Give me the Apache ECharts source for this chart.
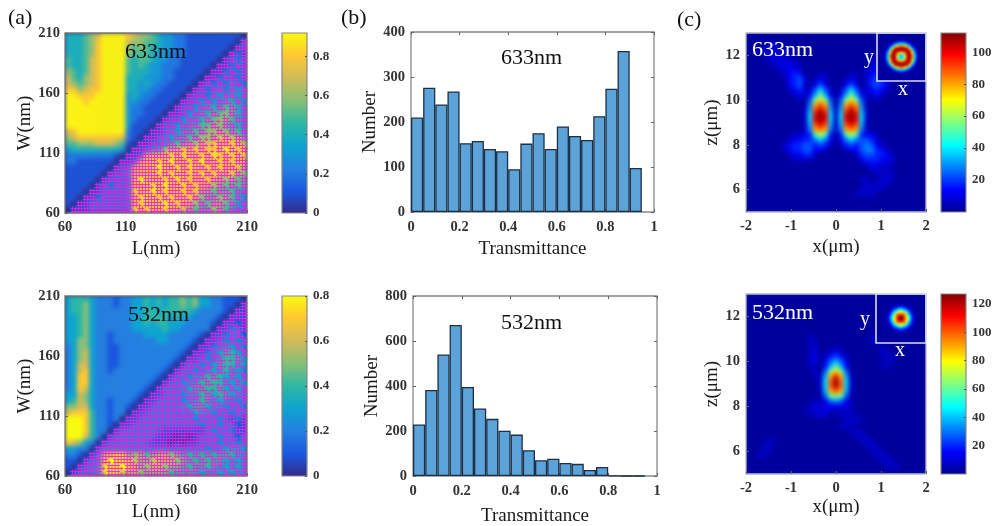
<!DOCTYPE html>
<html><head><meta charset="utf-8">
<style>
html,body{margin:0;padding:0;background:#fff;overflow:hidden}
#heat,#inset,#main{position:absolute;left:0;top:0;width:992px;height:526px}
#heat{background:#1c2c9c;filter:blur(2px)}
#inset{background:#00008f;filter:blur(.8px)}
</style>
<script src="https://cdn.jsdelivr.net/npm/echarts@6/dist/echarts.min.js"></script>
</head><body><div id="heat"></div><div id="inset"></div><div id="main"></div>
<script>
// ---------- histogram data ----------
const binCenters=[.025,.075,.125,.175,.225,.275,.325,.375,.425,.475,.525,.575,.625,.675,.725,.775,.825,.875,.925];
const counts633=[210,276,239,268,153,158,140,135,95,152,175,140,190,169,160,213,274,358,98];
const counts532=[229,382,540,671,396,300,254,201,184,115,70,77,58,54,27,40,2,0,0];
// ---------- tick labels ----------
const sizeTicks=[60,110,160,210];
const transTicksX=[0,.2,.4,.6,.8,1];
const transTicksY633=[0,100,200,300,400];
const transTicksY532=[0,200,400,600,800];
const xTicksC=[-2,-1,0,1,2];
const zTicksC=[6,8,10,12];
const barTicksA1=[0,.2,.4,.6,.8];
const barTicksA2=[0,.2,.4,.6,.8];
const barTicksC1=[20,40,60,80,100];
const barTicksC2=[20,40,60,80,100,120];
// ---------- transmittance maps: one digit = value in tenths, rows from W=210 down, columns from L=60 ----------
const map633=[
"444567999987665433221111111110",
"444568999976655433221111111102",
"444568999965654433221111111012",
"444568999965554332221111110121",
"544578999954554332211111101222",
"544578999954543322211111011222",
"654578999954443322111110112222",
"754678999944433322111101122222",
"765678999944343221111012222322",
"886788999944332211110122232333",
"998889999934322111101222333433",
"999899999933221111012233334433",
"999999999932211110122334445543",
"999999999932211101123344556543",
"999999999932111012233445566543",
"999999999931110122334455665443",
"789999999921101123344556666553",
"678888888721011233445566677765",
"556667776510112234556677888887",
"344444444301123467788888889988",
"222222221011278888889888988888",
"221111110112788889888898888887",
"111111101227888988888988888886",
"111111012237888888988888887866",
"111110122228988888898888866655",
"111101222228888898888887665555",
"111011222228889888888866555543",
"110112222228898888888765566543",
"101122222228888898887655665533",
"011122222228888888776555665433"];
const mask633=["","1","11","101","1101","11011","110101","1101101","11010110","110110101","1110101101","11101011010","111011010101","1110110100101","11101101001011","111011100101101","1111011010010101","11110110100101011","111111011010011010","1111101101010010101","11111110101101001010","111111010110101101011","1111111011010110101101","11111111010110101011010","111111011101010110110101","1101111110101101011010101","11111110110101101011011011","110111111011010110101101010","1111111111011101011010110101","11111111110101101101011010111"];
const map532=[
"344432221223343434454533221110",
"344532221223343434454533221101",
"344532222223344344444322221011",
"334532222223344443433222210111",
"334532222223343443332222101111",
"334532222223333343322222011221",
"334532212222233332222210112221",
"335532212222222332222101122222",
"235532211222222222221011223322",
"235632211222222222210112234432",
"235632211222222222101122234443",
"236632211222222221012222344433",
"236732212222222210122223334332",
"237732222222222101222334443332",
"237732222222221012223344443333",
"237632222222210122233444443332",
"336532222222101122223344344332",
"346532212221011222223344333222",
"556632212210112222233443332222",
"677742212201122222222333222222",
"888742212011222222222222222121",
"888742210112222222222222222211",
"888742201222222211111112222211",
"888642012222222111010122222212",
"765320122222221110101122222222",
"332201222222222222222222223333",
"221012678855645665544444444433",
"110122788876556666554444443333",
"101223788876556655544444433333",
"012223788666555554444433333333"];
const mask532=["","1","11","111","1101","11011","110110","1110101","11011010","110101001","1110110010","11101010010","111011010100","1110110100101","11101101001010","111110110010101","1111101101001011","11111101101101101","111111110110110110","1111111111011011011","11111111111011101101","111111111111101101101","1111111111111111011011","11111111111111111101101","111111111111111111101101","1111111111111111110110110","11111110101110110101011011","111101110110111011010110101","1111011011101101110110110101","11111011011011110111101101011"];
// ---------- field maps: one base-36 digit = intensity / 5, rows from z=13 down, columns from x=-2 ----------
const field633=[
"11111111111111111111111111111111111",
"11111111111111111111111111111111111",
"11112211111111111111111111111111111",
"11122222111111111111111111111111111",
"11122322211111111111111111222111111",
"11112232221111111111111122322211111",
"11111223322111111111111123332211111",
"11111122332111111111111233332111111",
"11111112344111221111221234432111111",
"11111111345312321112321245431111111",
"11111111345213531113531245431111111",
"11111111234225852125852234321111111",
"11111111123237b73137b73223211111111",
"1111111111215bfb515bfb5212111111111",
"1111111111116gig616gig6111111111111",
"1111111111127ili727ili7211111111111",
"1111111111128kmk828kmk8211111111111",
"1111111111128kmk828kmk8211111111111",
"1111111111127iki727iki7211111111111",
"1111111111126ghg626ghg6211111111111",
"1111111112234ada414ada4332111111111",
"11111111233446863136865542111111111",
"11111112344554542124545653211111111",
"11111112344553321112335664321111111",
"11111111233442111111124554432111111",
"11111111122221111111113444332111111",
"11111111111111111111111233222111111",
"11111111111111111111111122221111111",
"11111111111111111111111112222111111",
"11111111111111111111112211222111111",
"11111111111111111111111222221111111",
"11111111111111111111112222211111111",
"11111111111111111111122221111111111",
"11111111111111111111111111111111111",
"11111111111111111111111111111111111",
"11111111111111111111111111111111111"];
const field532=[
"11111111111111111111111111111111111",
"11111111111111111111111111111111111",
"11111111111111111111111111111111111",
"11111111111111111111111111111111111",
"11111111111111111111111111111111111",
"11111111111111111111111111111111111",
"11111111111111111111111111211111111",
"11111111111111111111111112211111111",
"11111111111121111111111122111111111",
"11111111111122111111111122111111111",
"11111111111122111211111111211111111",
"11111111111123112321111111221111111",
"11111111111123124542111111222111111",
"11111111111123136863111111122111111",
"11111111111122148c84111111221111111",
"1111111111111216dhd6111111111111111",
"1111111111111228imi8211111111111111",
"1111111111111129kpk9211111111111111",
"1111111111111129kok9211111111111111",
"1111111111111128iki8211111111111111",
"1111111111111116cdc6111111111111111",
"11111111111112236763211111111111111",
"11111111111123233333211111111111111",
"11111111111222332222211111111111111",
"11111111111112221122221111111111111",
"11111111111111111112222111111111111",
"11111111111111111122211111111111111",
"11111111111111111111222111111111111",
"11111111111111111111122211111111111",
"11112211111111111111112221111111111",
"11122111111111111111111222111111111",
"11122111111111111111111122211111111",
"11221111111111111111111112221111111",
"11111111111111111111111111222111111",
"11111111111111111111111111122211111",
"11111111111111111111111111111111111"];
const inset633=[
"11111111111111111111","11111111111111111111","11111111111111111111",
"11111111233211111111",
"11111135788753111111",
"1111137bfhhfb7311111",
"111137djlmmljd731111",
"11115bjmlkklmjb51111",
"11127fllhddhllf72111",
"11138hmkd88dkmh83111",
"11138hmkd88dkmh83111",
"11127fllhddhllf72111",
"11115bjmlkklmjb51111",
"111137djlmmljd731111",
"1111137bfhhfb7311111",
"11111135788753111111",
"11111111233211111111",
"11111111111111111111","11111111111111111111","11111111111111111111"];
const inset532=[
"11111111111111111111","11111111111111111111","11111111111111111111","11111111111111111111",
"11111111222211111111",
"11111123455432111111",
"111112368aa863211111",
"1111136aeggea6311111",
"1111248ejllje8421111",
"111125aglpplga521111",
"111125aglpplga521111",
"1111248ejllje8421111",
"1111136aeggea6311111",
"111112368aa863211111",
"11111123455432111111",
"11111111222211111111",
"11111111111111111111","11111111111111111111","11111111111111111111","11111111111111111111"];

const parula=['#352a87','#1a58e0','#2480e0','#0ea4d0','#2eb7a4','#87bf77','#d1bb59','#fec832','#f9fb0e'];
const jet=['#00008f','#0000ff','#0080ff','#00ffff','#80ff80','#ffff00','#ff8000','#ff0000','#800000'];
const SERIF='"Liberation Serif","Times New Roman",serif';
const TICK={fontFamily:SERIF,fontWeight:'bold',fontSize:14.5,color:'#333'};
const NAME={fontFamily:SERIF,fontSize:19,color:'#1a1a1a'};

// pixel boxes [left, top, width, height]
const box={
 a1:[65,33,182,180],a1b:[282,33,25,180],
 a2:[65,296,182,180],a2b:[282,296,25,180],
 b1:[411,32,243,180],b2:[413,296,244,180],
 c1:[746,33,180,179],c1i:[877,33,49,48],c1b:[941,33,25,179],
 c2:[746,294,180,180],c2i:[876,294,50,49],c2b:[941,294,25,180]};
const gridOf=(b,extra)=>Object.assign({left:b[0],top:b[1],width:b[2],height:b[3],containLabel:false,outerBoundsMode:'none'},extra||{});

// ------- heat layers -------
function cells(rows,scale){const out=[];rows.forEach((row,r)=>{for(let i=0;i<row.length;i++)out.push([i,rows.length-1-r,parseInt(row[i],36)*scale]);});return out;}
const R633=[0,.92,parula],R532=[0,.8,parula],F633=[3,112,jet],F532=[3,127,jet];
function layer(id,list){
  const el=document.getElementById(id),c=echarts.init(el);
  c.setOption({animation:false,
   grid:list.map(h=>gridOf(box[h[0]])),
   xAxis:list.map((h,k)=>({type:'category',gridIndex:k,show:false,data:[...h[1][0]].map((_,i)=>i)})),
   yAxis:list.map((h,k)=>({type:'category',gridIndex:k,show:false,data:h[1].map((_,i)=>i)})),
   visualMap:list.map((h,k)=>({show:false,type:'continuous',min:h[3][0],max:h[3][1],dimension:2,seriesIndex:k,inRange:{color:h[3][2]}})),
   series:list.map((h,k)=>({type:'heatmap',xAxisIndex:k,yAxisIndex:k,data:cells(h[1],h[2]),progressive:0,itemStyle:{borderWidth:0},emphasis:{disabled:true}}))
  });
  const clip=list.map(h=>{const b=box[h[0]];return `M${b[0]} ${b[1]}H${b[0]+b[2]}V${b[1]+b[3]}H${b[0]}Z`;}).join(' ');
  el.style.clipPath=`path('${clip}')`;
}
layer('heat',[['a1',map633,.1,R633],['a2',map532,.1,R532],['c1',field633,5,F633],['c2',field532,5,F532]]);
layer('inset',[['c1i',inset633,5,F633],['c2i',inset532,5,F532]]);

// ------- marks layer -------
function lattice(mask){const pts=[];mask.forEach((row,r)=>{for(let k=0;k<row.length;k++){
  const i=30-row.length+k,L=60+5*i,W=210-5*r-5;
  if(row[k]==='1')[1.25,3.75].forEach(a=>[1.25,3.75].forEach(b=>pts.push([L+a,W+b])));
  else pts.push([L+1.25,W+1.25]);}});return pts;}
const grids=[],xs=[],ys=[],series=[],extraX=[],extraY=[];
function addGrid(b,gopt,x,y){grids.push(gridOf(b,gopt));const n=grids.length-1;xs.push(Object.assign({gridIndex:n},x));ys.push(Object.assign({gridIndex:n},y));return n;}
const frame=c=>({show:true,borderColor:c,borderWidth:1.3,backgroundColor:'transparent'});
const valAxis=(min,max,ticks,name,gap,margin)=>({type:'value',min,max,name,nameLocation:'middle',nameGap:gap,nameTextStyle:NAME,splitLine:{show:false},
  axisLine:{show:false,onZero:false},axisTick:{show:true,inside:true,length:3,customValues:ticks,lineStyle:{color:'#666'}},
  axisLabel:Object.assign({},TICK,{margin,customValues:ticks})});
const hidden={type:'value',show:false,min:0,max:1,splitLine:{show:false},axisLine:{onZero:false}};
function colorBar(b,stops,max,ticks){
  const cs=stops.map((c,i)=>({offset:i/(stops.length-1),color:c}));
  addGrid(b,{show:true,borderColor:'#888',borderWidth:1.2,backgroundColor:{type:'linear',x:0,y:1,x2:0,y2:0,colorStops:cs}},hidden,
   {type:'value',position:'right',min:0,max,splitLine:{show:false},axisLine:{show:false,onZero:false},
    axisTick:{show:true,inside:true,length:2,customValues:ticks,lineStyle:{color:'#555'}},
    axisLabel:Object.assign({},TICK,{fontSize:13,margin:6,customValues:ticks})});
}
function mapPanel(b,mask){
  const n=addGrid(b,frame('#777'),valAxis(60,210,sizeTicks,'L(nm)',27,7),valAxis(60,210,sizeTicks,'W(nm)',28,5));
  series.push({type:'scatter',xAxisIndex:n,yAxisIndex:n,data:lattice(mask),symbol:'path://M2 0h1v2h2v1H3v2H2V3H0V2h2z',symbolSize:4,
    itemStyle:{color:'#ee1fdc',opacity:.9},silent:true,clip:false});
}
function histPanel(b,counts,ymax,ticks,xGap){
  const n=addGrid(b,frame('#888'),valAxis(0,1,transTicksX,'Transmittance',xGap,8),valAxis(0,ymax,ticks,'Number',31,6));
  series.push({type:'bar',xAxisIndex:n,yAxisIndex:n,barWidth:b[2]/20,data:binCenters.map((c,i)=>[c,counts[i]]),
    itemStyle:{color:'#5ba3d9',borderColor:'#1d2f45',borderWidth:1.3},silent:true});
  const t=(min,max,v,pos)=>({gridIndex:n,type:'value',min,max,position:pos,splitLine:{show:false},axisLine:{show:false,onZero:false},axisLabel:{show:false},
    axisTick:{show:true,inside:true,length:3,customValues:v,lineStyle:{color:'#666'}}});
  extraX.push(t(0,1,transTicksX,'top'));extraY.push(t(0,ymax,ticks,'right'));
}
function fieldPanel(b,ib,nameGap){
  addGrid(b,frame('#b4b8c8'),valAxis(-2,2,xTicksC,'x(μm)',nameGap,7),valAxis(5,13,zTicksC,'z(μm)',23,6));
  addGrid(ib,{show:true,borderColor:'#d8dce8',borderWidth:1.6,backgroundColor:'transparent'},hidden,hidden);
}
mapPanel(box.a1,mask633);
colorBar(box.a1b,parula,.92,barTicksA1);
mapPanel(box.a2,mask532);
colorBar(box.a2b,parula,.8,barTicksA2);
histPanel(box.b1,counts633,400,transTicksY633,28);
histPanel(box.b2,counts532,800,transTicksY532,31);
fieldPanel(box.c1,box.c1i,26);
colorBar(box.c1b,jet,112,barTicksC1);
fieldPanel(box.c2,box.c2i,24);
colorBar(box.c2b,jet,127,barTicksC2);

const txt=(s,x,y,size,color)=>({type:'text',x,y,silent:true,style:{text:s,fontFamily:SERIF,fontSize:size,fill:color,verticalAlign:'middle'}});
const main=echarts.init(document.getElementById('main'));
main.setOption({animation:false,grid:grids,xAxis:xs.concat(extraX),yAxis:ys.concat(extraY),series,
 graphic:{elements:[
  txt('(a)',8,18,22,'#111'),txt('(b)',341,18,22,'#111'),txt('(c)',677,20,22,'#111'),
  txt('633nm',125,52,22,'#111'),txt('532nm',128,315,22,'#111'),
  txt('633nm',501,58,22,'#111'),txt('532nm',501,323,22,'#111'),
  txt('633nm',752,50,22,'#fff'),txt('532nm',752,313,22,'#fff'),
  txt('y',864,58,20,'#fff'),txt('x',898,90,20,'#fff'),
  txt('y',860,320,20,'#fff'),txt('x',895,351,20,'#fff')
 ]}});
</script></body></html>
